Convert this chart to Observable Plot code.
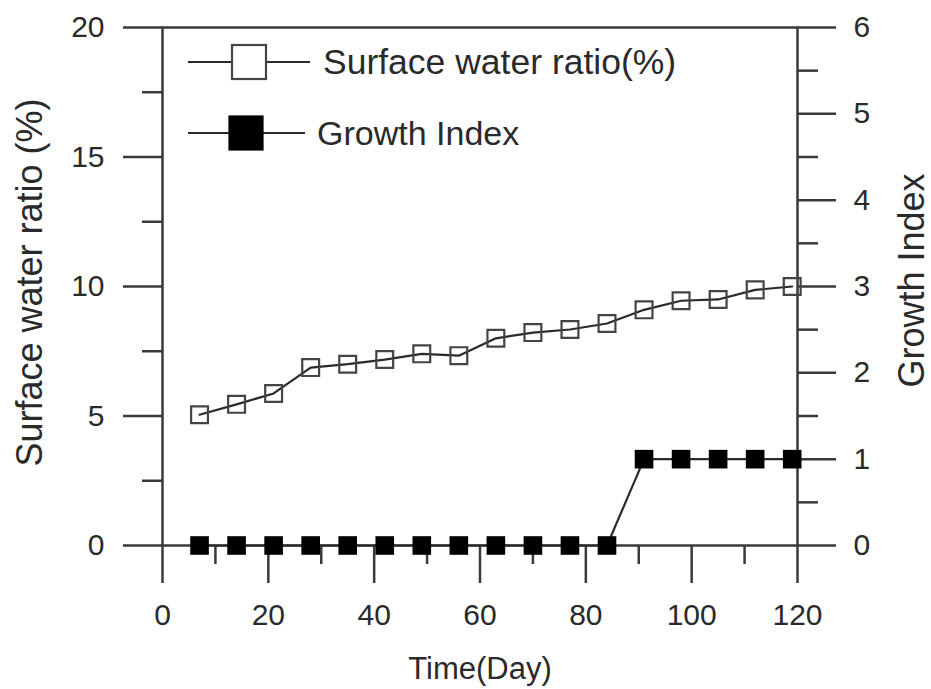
<!DOCTYPE html>
<html>
<head>
<meta charset="utf-8">
<script src="https://cdn.jsdelivr.net/npm/d3@7"></script>
<script src="https://cdn.jsdelivr.net/npm/@observablehq/plot@0.6"></script>
<style>
  html, body { margin: 0; padding: 0; background: #fff; }
  #wrap { position: relative; width: 931px; height: 689px; font-family: "Liberation Sans", Arial, sans-serif; color: #2a2a2a; }
  #legend { position: absolute; left: 0; top: 0; pointer-events: none; }
</style>
</head>
<body>
<div id="wrap"></div>
<script>
// ---- data ----
const days = [7, 14, 21, 28, 35, 42, 49, 56, 63, 70, 77, 84, 91, 98, 105, 112, 119];
const surfaceWater = [5.05, 5.45, 5.87, 6.87, 7.0, 7.18, 7.4, 7.33, 8.0, 8.22, 8.34, 8.57, 9.1, 9.45, 9.5, 9.87, 10.0];
const growthIndex = [0, 0, 0, 0, 0, 0, 0, 0, 0, 0, 0, 0, 1, 1, 1, 1, 1];

const xMajorTicks = [0, 20, 40, 60, 80, 100, 120];
const xMinorTicks = [10, 30, 50, 70, 90, 110];
const yMajorTicks = [0, 5, 10, 15, 20];
const yMinorTicks = [2.5, 7.5, 12.5, 17.5];
const giMajorTicks = [0, 1, 2, 3, 4, 5, 6];
const giMinorTicks = [0.5, 1.5, 2.5, 3.5, 4.5, 5.5];

const xTitle = "Time(Day)";
const yTitleLeft = "Surface water ratio (%)";
const yTitleRight = "Growth Index";
const seriesNames = ["Surface water ratio(%)", "Growth Index"];

// right axis (0..6) mapped onto left scale (0..20)
const k = 20 / 6;
const table = days.map((d, i) => ({day: d, sw: surfaceWater[i], gi: growthIndex[i] * k}));

const ink = "#2a2a2a";
const axisInk = "#3a3a3a";
const fontFamily = '"Liberation Sans", Arial, sans-serif';

const chart = Plot.plot({
  width: 931,
  height: 689,
  marginLeft: 162,
  marginRight: 134,
  marginTop: 27,
  marginBottom: 144,
  style: {fontFamily, color: ink, background: "#fff", overflow: "visible"},
  x: {domain: [0, 120], label: null},
  y: {domain: [0, 20], label: null},
  marks: [
    Plot.frame({stroke: axisInk, strokeWidth: 2.5}),
    Plot.axisX(xMajorTicks, {tickSize: 38, tickPadding: 20, fontSize: 30, stroke: axisInk, strokeWidth: 2.5, label: null}),
    Plot.axisX(xMinorTicks, {tickSize: 19, tickFormat: () => "", stroke: axisInk, strokeWidth: 2.5, label: null}),
    Plot.axisY(yMajorTicks, {anchor: "left", tickSize: 39, tickPadding: 19, fontSize: 30, stroke: axisInk, strokeWidth: 2.5, label: null}),
    Plot.axisY(yMinorTicks, {anchor: "left", tickSize: 20, tickFormat: () => "", stroke: axisInk, strokeWidth: 2.5, label: null}),
    Plot.axisY(giMajorTicks.map(v => v * k), {anchor: "right", tickSize: 38, tickPadding: 18, fontSize: 30, stroke: axisInk, strokeWidth: 2.5, label: null, tickFormat: d => String(Math.round(d / k))}),
    Plot.axisY(giMinorTicks.map(v => v * k), {anchor: "right", tickSize: 20, tickFormat: () => "", stroke: axisInk, strokeWidth: 2.5, label: null}),
    Plot.line(table, {x: "day", y: "sw", stroke: ink, strokeWidth: 2.2}),
    Plot.dot(table, {x: "day", y: "sw", symbol: "square", r: 9.5, fill: "none", stroke: "#444", strokeWidth: 2.2}),
    Plot.line(table, {x: "day", y: "gi", stroke: ink, strokeWidth: 2.2}),
    Plot.dot(table, {x: "day", y: "gi", symbol: "square", r: 10.5, fill: "#000", stroke: "none"}),
    Plot.text([xTitle], {text: d => d, frameAnchor: "bottom", dy: 124, fontSize: 31, textAnchor: "middle", lineAnchor: "middle", fill: ink}),
    Plot.text([yTitleLeft], {text: d => d, frameAnchor: "left", dx: -132, dy: -4, rotate: -90, fontSize: 36, textAnchor: "middle", lineAnchor: "middle", fill: ink}),
    Plot.text([yTitleRight], {text: d => d, frameAnchor: "right", dx: 115, dy: -6, rotate: -90, fontSize: 36, textAnchor: "middle", lineAnchor: "middle", fill: ink})
  ]
});

const wrap = document.getElementById("wrap");
wrap.appendChild(chart);

// ---- legend (inside the plot area, top-left) ----
const NS = "http://www.w3.org/2000/svg";
const leg = document.createElementNS(NS, "svg");
leg.setAttribute("id", "legend");
leg.setAttribute("width", 931);
leg.setAttribute("height", 689);
const rows = [
  {name: seriesNames[0], y: 62, x1: 188, x2: 310, cx: 249, size: 34, fill: "#fff", stroke: "#444", tx: 323, fs: 35.5},
  {name: seriesNames[1], y: 133, x1: 188, x2: 305, cx: 246, size: 33, fill: "#000", stroke: "#000", tx: 317, fs: 34}
];
for (const r of rows) {
  const ln = document.createElementNS(NS, "line");
  ln.setAttribute("x1", r.x1); ln.setAttribute("x2", r.x2);
  ln.setAttribute("y1", r.y); ln.setAttribute("y2", r.y);
  ln.setAttribute("stroke", ink); ln.setAttribute("stroke-width", 2.2);
  leg.appendChild(ln);
  const rc = document.createElementNS(NS, "rect");
  rc.setAttribute("x", r.cx - r.size / 2); rc.setAttribute("y", r.y - r.size / 2);
  rc.setAttribute("width", r.size); rc.setAttribute("height", r.size);
  rc.setAttribute("fill", r.fill); rc.setAttribute("stroke", r.stroke); rc.setAttribute("stroke-width", 2.2);
  leg.appendChild(rc);
  const tx = document.createElementNS(NS, "text");
  tx.setAttribute("x", r.tx); tx.setAttribute("y", r.y);
  tx.setAttribute("dy", "0.35em");
  tx.setAttribute("font-size", r.fs);
  tx.setAttribute("font-family", fontFamily);
  tx.setAttribute("fill", ink);
  tx.textContent = r.name;
  leg.appendChild(tx);
}
wrap.appendChild(leg);
</script>
</body>
</html>
